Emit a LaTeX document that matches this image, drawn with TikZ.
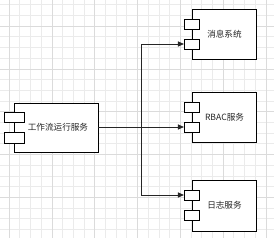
\documentclass[tikz,border=0pt]{standalone}
\usepackage{fontspec}
\newfontfamily\cjk{Noto Sans CJK SC}
\usetikzlibrary{arrows.meta}
\begin{document}
\begin{tikzpicture}[x=1pt,y=-1pt,
  comp/.style={draw=black,line width=0.9pt,fill=white,inner sep=0pt},
  port/.style={draw=black,line width=0.9pt,fill=white,inner sep=0pt},
  lbl/.style={font=\cjk\fontsize{8.6}{10}\selectfont,text=black!85,inner sep=0pt},
  conn/.style={draw=black!85,line width=0.8pt},
  arr/.style={conn,-{Triangle[length=6pt,width=5pt]}}]
\useasboundingbox (0,0) rectangle (274,238);
\fill[white] (0,0) rectangle (274,238);
% grid
\foreach \i in {0,...,25} {
  \pgfmathsetmacro\xx{9+10.7*\i}
  \draw[black!8,line width=0.4pt] (\xx,0) -- (\xx,238);
}
\foreach \i in {0,...,22} {
  \pgfmathsetmacro\yy{4.6+10.7*\i}
  \draw[black!8,line width=0.4pt] (0,\yy) -- (274,\yy);
}
\foreach \i in {0,4,8,12,16,20,24} {
  \pgfmathsetmacro\xx{9+10.7*\i}
  \draw[black!14,line width=0.4pt] (\xx,0) -- (\xx,238);
}
\foreach \i in {2,6,10,14,18,22} {
  \pgfmathsetmacro\yy{4.6+10.7*\i}
  \draw[black!14,line width=0.4pt] (0,\yy) -- (274,\yy);
}
% left component
\draw[comp] (14,103) rectangle (98,152);
\coordinate (wfR) at (98,127);
\draw[port] (4.5,112) rectangle (24,122);
\draw[port] (4.5,132.5) rectangle (24,143);
\node[lbl] (wf) at (58,127) {工作流运行服务};
% top component
\draw[comp] (192,9) rectangle (256,59);
\draw[port] (184,19) rectangle (199,29);
\draw[port] (184,39) rectangle (199,49);
\coordinate (p1) at (184,44);
\node[lbl] (msg) at (224.5,34) {消息系统};
% middle component
\draw[comp] (192,92) rectangle (256,142);
\draw[port] (184,102) rectangle (199,112);
\draw[port] (184,122) rectangle (199,132);
\coordinate (p2) at (184,127);
\node[lbl] (rbac) at (224.5,117) {RBAC服务};
% bottom component
\draw[comp] (192,180) rectangle (256,231);
\draw[port] (184,190) rectangle (199,200.5);
\draw[port] (184,210) rectangle (199,220.5);
\coordinate (p3) at (184,195);
\node[lbl] (log) at (224.5,205) {日志服务};
% connectors
\coordinate (j) at (141,127);
\draw[arr] (wfR) -- (j) |- (p1);
\draw[arr] (j) -- (p2);
\draw[arr] (j) |- (p3);
\end{tikzpicture}
\end{document}
